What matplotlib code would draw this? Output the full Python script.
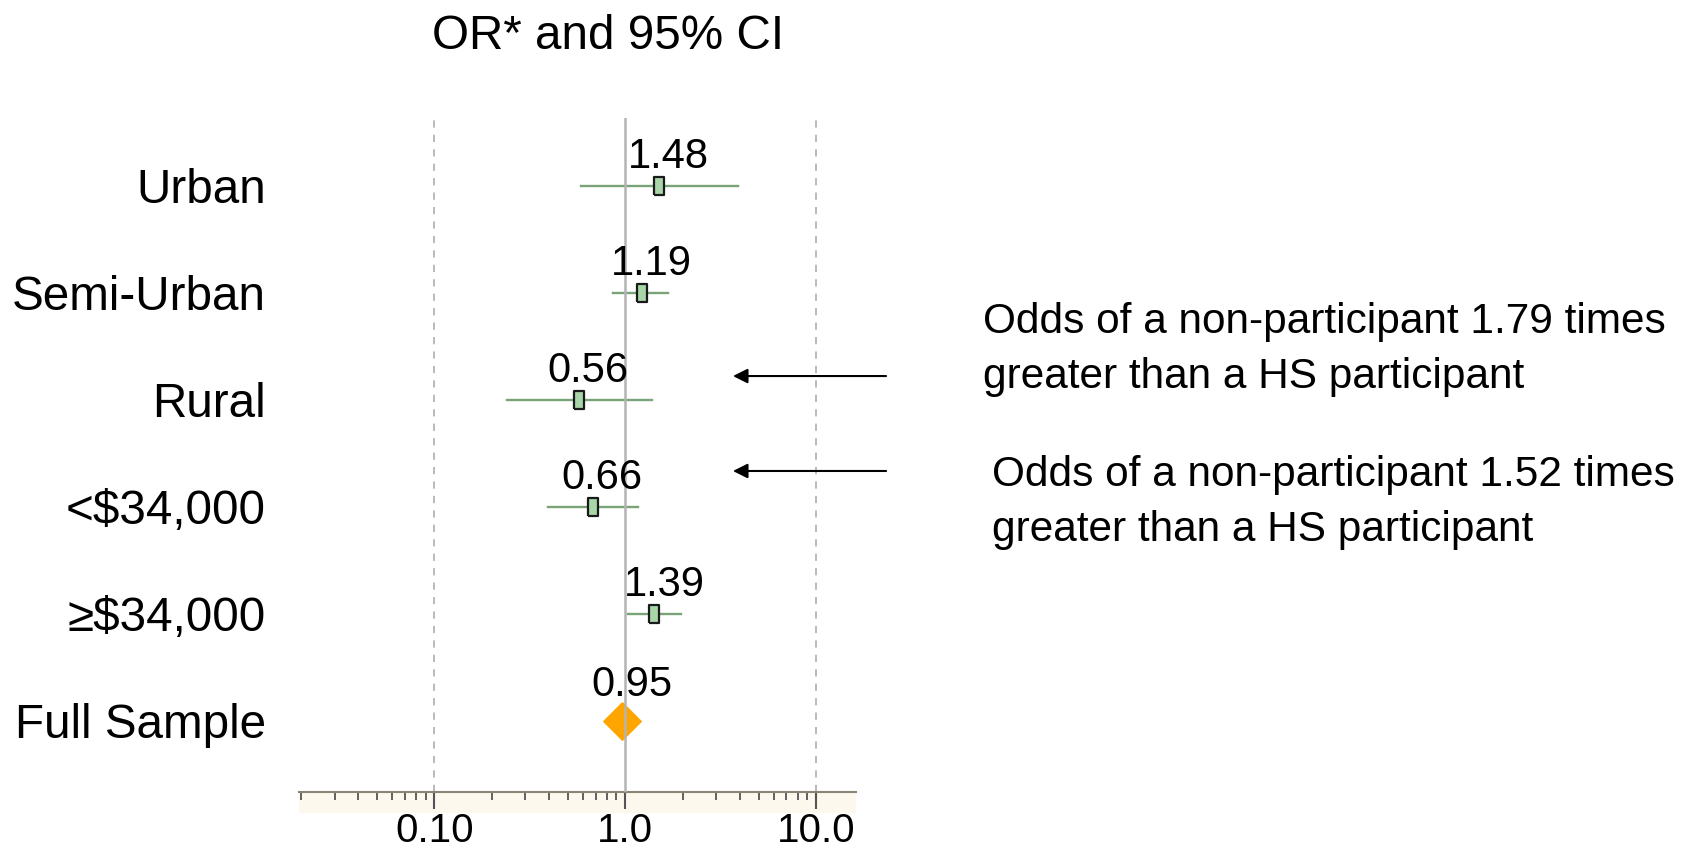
import matplotlib.pyplot as plt
import numpy as np
from matplotlib.patches import Rectangle
from matplotlib.ticker import LogLocator, NullFormatter

plt.rcParams['font.family'] = ['Liberation Sans', 'DejaVu Sans']

# data
groups = ['Urban', 'Semi-Urban', 'Rural', '<$34,000', '\u2265$34,000', 'Full Sample']
odds = [1.50, 1.22, 0.57, 0.675, 1.42, 0.96]
labels = ['1.48', '1.19', '0.56', '0.66', '1.39', '0.95']
ci_low = [0.586, 0.864, 0.241, 0.392, 1.035, None]
ci_high = [3.88, 1.68, 1.38, 1.17, 1.97, None]

notes = ['Odds of a non-participant 1.79 times\ngreater than a HS participant',
         'Odds of a non-participant 1.52 times\ngreater than a HS participant']

fig = plt.figure(figsize=(16.9, 8.5), dpi=100)
ax = fig.add_axes([0.1769, 0.068, 0.3296, 0.793])

ypos = np.arange(len(groups), 0, -1)

# reference lines
ax.axvline(1.0, color='#b4b4b4', lw=1.8, zorder=3)
for v in (0.1, 10.0):
    ax.axvline(v, color='#b4b4b4', lw=1.3, ls=(0, (4, 4)), zorder=1)

box = [(-0.3, -0.5), (0.3, -0.5), (0.3, 0.5), (-0.3, 0.5), (-0.3, -0.5)]
diamond = [(0, 1), (1, 0), (0, -1), (-1, 0), (0, 1)]

for y, o, lab, lo, hi in zip(ypos, odds, labels, ci_low, ci_high):
    if lo is not None:
        ax.plot([lo, hi], [y, y], color='#78a478', lw=1.7, zorder=2)
        ax.plot(o, y, marker=box, ms=13, mfc='#a9d6a9', mec='#1a1a1a', mew=1.6,
                ls='none', zorder=4)
        dy = 13
    else:
        ax.plot(o, y, marker=diamond, ms=27, mfc='#ffa500', mec='#ffa500',
                ls='none', zorder=2)
        dy = 18
    ax.annotate(lab, (o, y), xytext=(7, dy), textcoords='offset points',
                ha='center', va='baseline', fontsize=30)

ax.set_xscale('log')
ax.set_xlim(0.0195, 16.2)
ax.set_ylim(0.334, 6.633)

ax.set_xticks([0.1, 1.0, 10.0])
ax.set_xticklabels(['0.10', '1.0', '10.0'], fontsize=29)
ax.xaxis.set_minor_locator(LogLocator(base=10, subs=np.arange(2, 10)))
ax.xaxis.set_minor_formatter(NullFormatter())
ax.tick_params(axis='x', which='major', direction='out', length=12, width=1.5,
               color='#555555', pad=2)
ax.tick_params(axis='x', which='minor', direction='out', length=6, width=1.3,
               color='#555555')

ax.set_yticks(ypos)
ax.set_yticklabels(groups, fontsize=34.3)
ax.tick_params(axis='y', length=0, pad=24)

for s in ('top', 'right', 'left'):
    ax.spines[s].set_visible(False)
ax.spines['bottom'].set_color('#8a8474')
ax.spines['bottom'].set_linewidth(1.5)

# cream band under the axis line
ax.add_patch(Rectangle((0, -0.031), 1, 0.031, transform=ax.transAxes,
                       facecolor='#fcf8ee', edgecolor='none', clip_on=False, zorder=0))

fig.text(0.36, 0.9576, 'OR* and 95% CI', fontsize=34.3, ha='center', va='center')

fig.text(0.5817, 0.589, notes[0], fontsize=30.5, ha='left', va='center', linespacing=1.5)
fig.text(0.5870, 0.409, notes[1], fontsize=30.5, ha='left', va='center', linespacing=1.5)

for y in (0.5576, 0.4459):
    ax.annotate('', xy=(0.4337, y), xytext=(0.5243, y),
                xycoords='figure fraction', textcoords='figure fraction',
                arrowprops=dict(arrowstyle='-|>', color='black', lw=1.5,
                                mutation_scale=22, shrinkA=0, shrinkB=0))

fig.savefig('out.png', dpi=100)
